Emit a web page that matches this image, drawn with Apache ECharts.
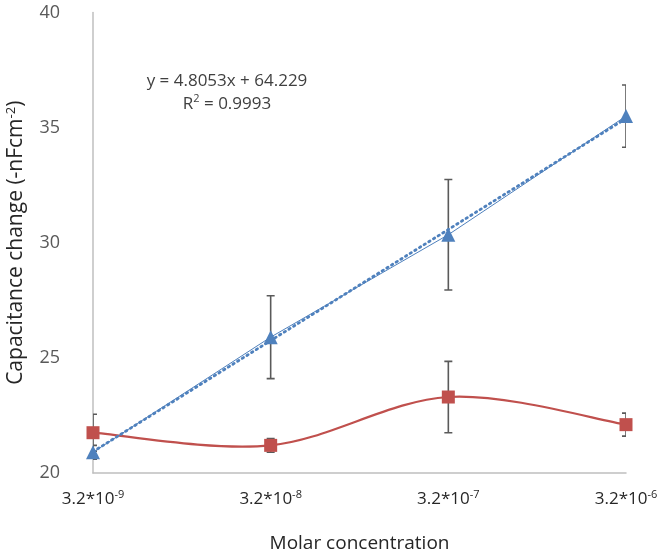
<!DOCTYPE html>
<html>
<head>
<meta charset="utf-8">
<script src="https://cdn.jsdelivr.net/npm/echarts@6/dist/echarts.min.js"></script>
<style>html,body{margin:0;padding:0;background:#fff}#c{width:666px;height:557px}</style>
</head>
<body>
<div id="c"></div>
<script>
// ---- data ----
var xBase = ['3.2*10', '3.2*10', '3.2*10', '3.2*10'];
var xExp = ['-9', '-8', '-7', '-6'];
var blueValues = [20.9, 25.9, 30.35, 35.5];
var blueErr = [0.3, 1.8, 2.4, 1.35];
var redValues = [21.75, 21.2, 23.3, 22.1];
var redErr = [0.8, 0.3, 1.55, 0.5];
var yTicks = [20, 25, 30, 35, 40];
var equationText = ['y = 4.8053x + 64.229', 'R{sup|2} = 0.9993'];

var categories = xExp.map(function (e, i) { return i; });

// linear trendline fitted to the blue series (category index as x)
function fit(vals) {
  var n = vals.length, sx = 0, sy = 0, sxx = 0, sxy = 0;
  vals.forEach(function (v, i) { sx += i; sy += v; sxx += i * i; sxy += i * v; });
  var b = (n * sxy - sx * sy) / (n * sxx - sx * sx);
  var a = (sy - b * sx) / n;
  return vals.map(function (v, i) { return a + b * i; });
}
var trend = fit(blueValues);

function errData(vals, errs) {
  return vals.map(function (v, i) { return [i, v - errs[i], v + errs[i]]; });
}

function errRender(params, api) {
  var x = api.value(0);
  var lo = api.coord([x, api.value(1)]);
  var hi = api.coord([x, api.value(2)]);
  var hw = 4;
  var st = { stroke: '#5a5a5a', lineWidth: 1.6 };
  return {
    type: 'group',
    children: [
      { type: 'line', shape: { x1: lo[0], y1: lo[1], x2: hi[0], y2: hi[1] }, style: st },
      { type: 'line', shape: { x1: lo[0] - hw, y1: lo[1], x2: lo[0] + hw, y2: lo[1] }, style: st },
      { type: 'line', shape: { x1: hi[0] - hw, y1: hi[1], x2: hi[0] + hw, y2: hi[1] }, style: st }
    ]
  };
}

// Excel-style smoothed curve (Catmull-Rom -> cubic Bezier) through the red points
function smoothRender(params, api) {
  var p = redValues.map(function (v, i) { return api.coord([i, v]); });
  var n = p.length;
  var d = 'M' + p[0][0] + ',' + p[0][1];
  for (var i = 0; i < n - 1; i++) {
    var p0 = p[Math.max(i - 1, 0)], p1 = p[i], p2 = p[i + 1], p3 = p[Math.min(i + 2, n - 1)];
    var c1x = p1[0] + (p2[0] - p0[0]) / 6, c1y = p1[1] + (p2[1] - p0[1]) / 6;
    var c2x = p2[0] - (p3[0] - p1[0]) / 6, c2y = p2[1] - (p3[1] - p1[1]) / 6;
    d += ' C' + c1x + ',' + c1y + ' ' + c2x + ',' + c2y + ' ' + p2[0] + ',' + p2[1];
  }
  return {
    type: 'path',
    shape: { pathData: d },
    style: { stroke: '#C0504D', lineWidth: 2.2, fill: 'none' }
  };
}

var font = '"Open Sans", "Noto Sans", sans-serif';
var chart = echarts.init(document.getElementById('c'));
chart.setOption({
  animation: false,
  backgroundColor: '#ffffff',
  grid: { left: 93, right: 40, top: 12.5, bottom: 84, containLabel: false, outerBoundsMode: 'none' },
  xAxis: {
    type: 'category',
    data: categories,
    boundaryGap: false,
    axisLine: { lineStyle: { color: '#bfbfbf', width: 1.5 } },
    axisTick: { show: false },
    axisLabel: {
      margin: 16,
      fontFamily: font,
      formatter: function (v, i) { return '{b|' + xBase[i] + '}{s|' + xExp[i] + '}'; },
      rich: {
        b: { fontSize: 17, color: '#262626', fontFamily: font },
        s: { fontSize: 11, color: '#262626', fontFamily: font, verticalAlign: 'top', padding: [0, 0, 9, 0] }
      }
    },
    name: 'Molar concentration',
    nameLocation: 'middle',
    nameGap: 61,
    nameTextStyle: { fontSize: 19, color: '#262626', fontFamily: font }
  },
  yAxis: {
    type: 'value',
    min: yTicks[0],
    max: yTicks[yTicks.length - 1],
    interval: 5,
    axisLine: { show: true, lineStyle: { color: '#bfbfbf', width: 1.5 } },
    axisTick: { show: false },
    splitLine: { show: false },
    axisLabel: { margin: 33, fontSize: 18, color: '#595959', fontFamily: font },
    name: '{n|Capacitance change (-nFcm}{s|-2}{n|)}',
    nameLocation: 'middle',
    nameGap: 65,
    nameRotate: 90,
    nameTextStyle: {
      rich: {
        n: { fontSize: 21, color: '#262626', fontFamily: font },
        s: { fontSize: 13, color: '#262626', fontFamily: font, verticalAlign: 'top', padding: [0, 0, 10, 0] }
      }
    }
  },
  graphic: [{
    type: 'text',
    x: 227,
    y: 70,
    style: {
      text: equationText.join('\n'),
      align: 'center',
      fill: '#404040',
      font: '17px ' + font,
      lineHeight: 23,
      rich: {
        sup: { fontSize: 11, fill: '#404040', verticalAlign: 'top', padding: [0, 0, 8, 0], fontFamily: font }
      }
    }
  }],
  series: [
    {
      type: 'custom',
      data: [[0, redValues[0]]],
      renderItem: smoothRender,
      z: 3
    },
    {
      type: 'line',
      data: redValues,
      symbol: 'rect',
      symbolSize: 13,
      itemStyle: { color: '#C0504D' },
      lineStyle: { opacity: 0 },
      z: 3
    },
    {
      type: 'line',
      data: blueValues,
      symbol: 'triangle',
      symbolSize: 14,
      itemStyle: { color: '#4F81BD' },
      lineStyle: { color: '#4F81BD', width: 1 },
      z: 4
    },
    {
      type: 'line',
      data: trend,
      symbol: 'none',
      lineStyle: { color: '#4F81BD', width: 2.8, type: [1.5, 4], cap: 'round' },
      z: 5
    },
    {
      type: 'custom',
      data: errData(blueValues, blueErr),
      renderItem: errRender,
      clip: true,
      z: 2
    },
    {
      type: 'custom',
      data: errData(redValues, redErr),
      renderItem: errRender,
      clip: true,
      z: 2
    }
  ]
});
</script>
</body>
</html>
